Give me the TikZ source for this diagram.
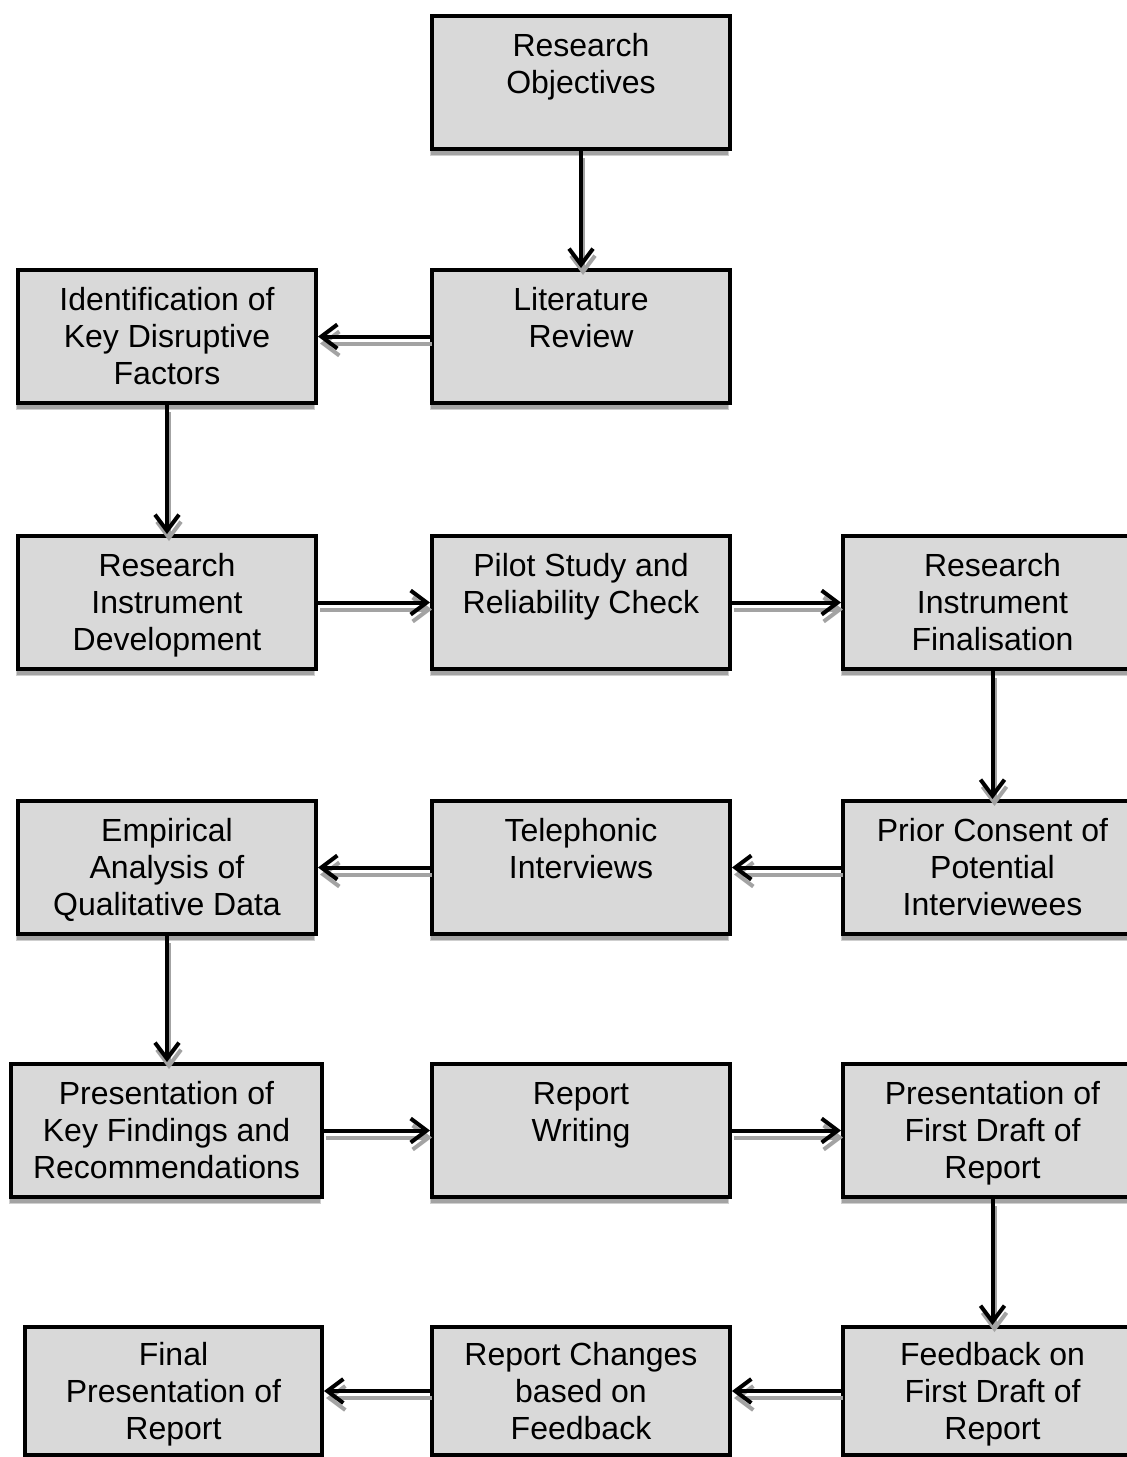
\documentclass[tikz,border=0pt]{standalone}
\usepackage{fontspec}
\setmainfont{Liberation Sans}
\usetikzlibrary{arrows.meta}
\definecolor{boxgray}{HTML}{D9D9D9}
\definecolor{shadegray}{HTML}{A3A3A3}
\definecolor{shadeline}{HTML}{CFCFCF}
\tikzset{
  stagebox/.style={draw=black, line width=4pt, fill=boxgray, inner sep=0pt,
    anchor=north west},
  stagetext/.style={inner sep=0pt, align=center,
    font=\fontsize{32}{37}\selectfont},
  flowline/.style={line width=4pt, -{Straight Barb[length=16pt,width=24pt,line width=4pt]}},
  flowshade/.style={flowline, draw=shadegray, transform canvas={xshift=2pt,yshift=-7pt}},
}
% box with its drop shade and its text: name, left, top, width, height, text
\newcommand\stage[6]{%
  \filldraw[fill=shadegray, draw=shadeline, line width=1pt] (#2,#3+#5-13) rectangle (#2+#4,#3+#5+8);
  \node[stagebox, minimum width=#4pt, minimum height=#5pt] (#1) at (#2,#3) {};
  \node[stagetext] (#1-t) at ([yshift=-4pt]#1.center) {\strut #6\strut};
}
% arrow with its grey shade
\newcommand\flow[2]{%
  \draw[flowshade] (#1) -- (#2);
  \draw[flowline] (#1) -- (#2);
}
\begin{document}
\begin{tikzpicture}[x=1pt,y=-1pt]
\useasboundingbox (0,0) rectangle (1127,1457);
\clip (0,0) rectangle (1127,1457);

\stage{ro}{430}{14}{298}{133}{Research\\Objectives\\~}
\stage{lr}{430}{268}{298}{133}{Literature\\Review\\~}
\stage{id}{16}{268}{298}{133}{Identification of\\Key Disruptive\\Factors}

\stage{rid}{16}{534}{298}{133}{Research\\Instrument\\Development}
\stage{ps}{430}{534}{298}{133}{Pilot Study and\\Reliability Check\\~}
\stage{rif}{841}{534}{299}{133}{Research\\Instrument\\Finalisation}

\stage{ea}{16}{799}{298}{133}{Empirical\\Analysis of\\Qualitative Data}
\stage{ti}{430}{799}{298}{133}{Telephonic\\Interviews\\~}
\stage{pc}{841}{799}{299}{133}{Prior Consent of\\Potential\\Interviewees}

\stage{pk}{9}{1062}{311}{133}{Presentation of\\Key Findings and\\Recommendations}
\stage{rw}{430}{1062}{298}{133}{Report\\Writing\\~}
\stage{pf}{841}{1062}{299}{133}{Presentation of\\First Draft of\\Report}

\stage{fp}{23}{1325}{297}{128}{Final\\Presentation of\\Report}
\stage{rc}{430}{1325}{298}{128}{Report Changes\\based on\\Feedback}
\stage{fb}{841}{1325}{299}{128}{Feedback on\\First Draft of\\Report}

\flow{ro.south}{lr.north}
\flow{lr.west}{id.east}
\flow{id.south}{rid.north}
\flow{rid.east}{ps.west}
\flow{ps.east}{rif.west}
\flow{rif.south}{pc.north}
\flow{pc.west}{ti.east}
\flow{ti.west}{ea.east}
\flow{ea.south}{ea.south |- pk.north}
\flow{pk.east}{rw.west}
\flow{rw.east}{pf.west}
\flow{pf.south}{fb.north}
\flow{fb.west}{rc.east}
\flow{rc.west}{fp.east}
\end{tikzpicture}
\end{document}
